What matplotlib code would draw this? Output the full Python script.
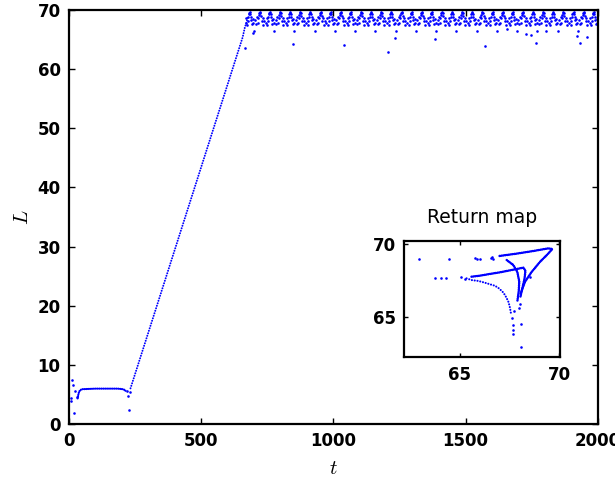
import numpy as np
import matplotlib.pyplot as plt

plt.rcParams['mathtext.fontset'] = 'cm'

# ---- main time series (t, L) ----
# scattered transient points at the start and at the drop near t=225
t_transient = [8, 8, 12, 16, 20, 23, 29, 218, 224, 227, 231]
L_transient = [4.3, 3.8, 7.4, 6.6, 1.9, 5.5, 4.6, 5.5, 4.7, 2.25, 5.3]

# quasi-steady plateau (dense samples, drawn as a dotted curve)
t_plateau = [33, 37, 41, 48, 100, 185, 205, 212, 216]
L_plateau = [4.3, 5.2, 5.6, 5.85, 5.95, 5.95, 5.85, 5.7, 5.5]

# linear ramp (dense samples, drawn as a dotted curve)
t_ramp = [233, 657, 665, 672, 678]
L_ramp = [6.0, 65.4, 67.0, 68.0, 69.0]

# bursting regime: one burst every ~38 time units, two burst shapes
t_first_peak = 684
burst_period = 38.26
n_bursts = 36
dt_burst_a = [-16, -13, -11, -8, -6, -4, -2, 0, 2, 4, 6, 9, 11, 14, 16]
L_burst_a = [67.9, 68.6, 67.5, 68.2, 68.8, 69.3, 69.6, 69.7, 69.4, 68.9, 68.3, 67.7, 68.5, 67.9, 66.5]
dt_burst_b = [-17, -14, -11, -9, -6, -4, -2, 0, 2, 4, 7, 10, 12, 15]
L_burst_b = [68.3, 67.6, 68.9, 67.9, 68.6, 69.2, 69.6, 69.7, 69.5, 69.0, 68.1, 68.7, 67.5, 68.2]

# isolated low points in the bursting regime
t_outlier = [665, 697, 848, 1041, 1208, 1233, 1384, 1575, 1655, 1730, 1746, 1768, 1806, 1922, 1934, 1960]
L_outlier = [63.6, 66.1, 64.2, 64.1, 63.0, 65.3, 65.1, 63.9, 66.9, 66.0, 65.8, 64.4, 66.4, 65.6, 64.4, 65.4]

# ---- return map (L_n, L_n+1) ----
# dense branches
rm_top_x = [67.0, 67.86, 68.70, 69.45, 69.63]
rm_top_y = [69.18, 69.34, 69.52, 69.70, 69.66]
rm_right_x = [69.63, 69.38, 69.04, 68.62, 68.28, 68.03]
rm_right_y = [69.62, 69.25, 68.79, 68.10, 67.42, 66.51]
rm_mid_x = [65.59, 66.01, 66.52, 67.02, 67.69, 68.20, 68.30, 68.25, 68.15, 68.05]
rm_mid_y = [67.76, 67.83, 67.95, 68.06, 68.24, 68.38, 68.15, 67.60, 67.00, 66.40]
rm_inner_x = [67.36, 67.69, 67.89, 67.99, 67.96, 67.89]
rm_inner_y = [68.90, 68.56, 68.10, 67.42, 66.73, 66.05]
rm_low_x = [65.34, 65.59, 65.93, 66.26, 66.52, 66.77, 66.97, 67.15, 67.27, 67.36, 67.44, 67.49, 67.53, 67.56, 67.61]
rm_low_y = [67.65, 67.53, 67.47, 67.35, 67.24, 67.14, 66.96, 66.73, 66.51, 66.28, 66.05, 65.82, 65.59, 65.32, 65.14]
# sparse points
rm_pts_x = [62.94, 64.46, 65.76, 65.85, 66.01, 66.55, 66.68, 66.62,
            63.74, 64.08, 64.33, 65.08, 65.25,
            67.69, 67.66, 67.66, 68.06, 68.06, 67.60, 67.70, 68.00, 68.05, 68.54]
rm_pts_y = [69.00, 69.00, 69.06, 68.98, 68.99, 69.05, 68.95, 69.12,
            67.69, 67.69, 67.65, 67.72, 67.58,
            64.45, 64.11, 63.82, 64.50, 62.97, 64.90, 65.40, 65.60, 65.90, 67.76]

blue = '#0000ff'
tick_font = dict(family='DejaVu Sans', weight='bold', size=12)

fig = plt.figure(figsize=(6.15, 4.86), dpi=100)
ax = fig.add_axes([0.112, 0.128, 0.860, 0.851])

# bursts built from the two read shapes, alternating
t_burst, L_burst = [], []
for k in range(n_bursts):
    peak = t_first_peak + burst_period * k
    dts, Ls = (dt_burst_a, L_burst_a) if k % 2 == 0 else (dt_burst_b, L_burst_b)
    t_burst += [peak + d for d in dts]
    L_burst += Ls

ax.plot(t_plateau, L_plateau, color=blue, lw=1.6, ls=(0, (0.05, 0.8)), dash_capstyle='round')
ax.plot(t_ramp, L_ramp, color=blue, lw=1.4, ls=(0, (0.05, 1.3)), dash_capstyle='round')
ax.scatter(t_transient, L_transient, s=3.5, color=blue, lw=0)
ax.scatter(t_burst, L_burst, s=3.5, color=blue, lw=0)
ax.scatter(t_outlier, L_outlier, s=3.5, color=blue, lw=0)

ax.set_xlim(0, 2000)
ax.set_ylim(0, 70)
ax.set_xticks([0, 500, 1000, 1500, 2000])
ax.set_yticks(range(0, 71, 10))
ax.tick_params(direction='in', top=True, right=True, length=4, width=1, pad=6)
for lab in ax.get_xticklabels() + ax.get_yticklabels():
    lab.set_fontproperties(tick_font)
for sp in ax.spines.values():
    sp.set_linewidth(1.6)
ax.set_xlabel(r'$t$', fontsize=15, labelpad=6)
ax.set_ylabel(r'$L$', fontsize=15, labelpad=4)

# inset: return map
axin = fig.add_axes([0.657, 0.265, 0.254, 0.239])
rm_style = dict(color=blue, lw=1.8, ls=(0, (0.05, 0.7)), dash_capstyle='round')
axin.plot(rm_top_x, rm_top_y, **rm_style)
axin.plot(rm_right_x, rm_right_y, **rm_style)
axin.plot(rm_mid_x, rm_mid_y, **rm_style)
axin.plot(rm_inner_x, rm_inner_y, **rm_style)
axin.plot(rm_low_x, rm_low_y, color=blue, lw=1.5, ls=(0, (0.05, 1.3)), dash_capstyle='round')
axin.scatter(rm_pts_x, rm_pts_y, s=3.5, color=blue, lw=0)
axin.set_xlim(62.2, 70.05)
axin.set_ylim(62.25, 70.2)
axin.set_xticks([65, 70])
axin.set_yticks([65, 70])
axin.tick_params(direction='in', top=True, right=True, length=3, width=1, pad=6)
for lab in axin.get_xticklabels() + axin.get_yticklabels():
    lab.set_fontproperties(tick_font)
for sp in axin.spines.values():
    sp.set_linewidth(1.6)
axin.set_title('Return map', fontsize=13.5, family='DejaVu Sans', pad=13)

fig.savefig('out.png', dpi=100)
